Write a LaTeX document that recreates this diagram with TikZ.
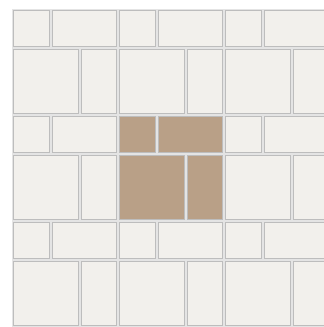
\documentclass[tikz,border=0pt]{standalone}
\definecolor{tilefill}{HTML}{F2F0EC}
\definecolor{tanfill}{HTML}{B9A087}
\definecolor{edgegrey}{HTML}{BDBDBD}
\definecolor{groutgrey}{HTML}{E4E4E4}
\tikzset{
  tile/.style={fill=tilefill, draw=edgegrey, line width=1pt},
  tantile/.style={fill=tanfill, draw=edgegrey, line width=1pt},
}
\begin{document}
\begin{tikzpicture}[x=1pt,y=-1pt]
\useasboundingbox (0,0) rectangle (324,327);
\fill[white] (0,0) rectangle (324,327);
\begin{scope}
\clip (0,0) rectangle (324,327);
\fill[groutgrey] (11.5,8.5) rectangle (340,340);
\foreach \i in {0,1,2} {
  \foreach \j in {0,1,2} {
    \pgfmathsetmacro{\ox}{11.5+106*\i}
    \pgfmathsetmacro{\oy}{8.5+106*\j}
    \ifnum\i=1 \ifnum\j=1 \def\st{tantile}\else\def\st{tile}\fi \else\def\st{tile}\fi
    % top row: small square + horizontal rectangle
    \draw[\st] (\ox+1.5,\oy+1.5) rectangle (\ox+39.5-1.5,\oy+39.5-1.5);
    \draw[\st] (\ox+39.5+1.5,\oy+1.5) rectangle (\ox+106-1.5,\oy+39.5-1.5);
    % bottom row: large square + vertical rectangle
    \draw[\st] (\ox+1.5,\oy+39.5+1.5) rectangle (\ox+68-1.5,\oy+106-1.5);
    \draw[\st] (\ox+68+1.5,\oy+39.5+1.5) rectangle (\ox+106-1.5,\oy+106-1.5);
  }
}
\end{scope}
\end{tikzpicture}
\end{document}
